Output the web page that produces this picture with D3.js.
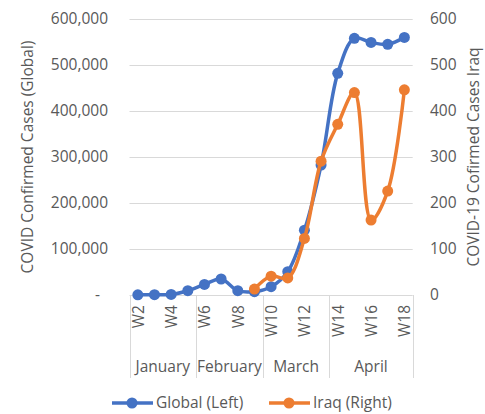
<!DOCTYPE html>
<html>
<head>
<meta charset="utf-8">
<script src="https://cdn.jsdelivr.net/npm/d3@7"></script>
<style>
  body { margin: 0; background: #fff; }
  text { font-family: "Open Sans", sans-serif; fill: #595959; }
</style>
</head>
<body>
<div id="chart"></div>
<script>
// weeks of 2020, one point per week
var weeks = ["W2","W3","W4","W5","W6","W7","W8","W9","W10","W11","W12","W13","W14","W15","W16","W17","W18"];
var months = [
  { name: "January", from: "W2", to: "W5" },
  { name: "February", from: "W6", to: "W9" },
  { name: "March", from: "W10", to: "W13" },
  { name: "April", from: "W14", to: "W18" }
];
var globalCases = [500, 800, 1200, 9300, 23000, 34800, 9300, 7200, 18000, 50700, 141000, 282600, 481800, 558000, 549000, 545000, 560000];
var iraqCases = [null, null, null, null, null, null, null, 13, 41, 37, 123, 291, 371, 440, 163, 226, 446];
var leftTicks = [0, 100000, 200000, 300000, 400000, 500000, 600000];
var rightTicks = [0, 100, 200, 300, 400, 500, 600];

var W = 485, H = 414;
var margin = { top: 19, left: 129.5, right: 72.3, bottom: 119 };

var svg = d3.select("#chart").append("svg")
  .attr("width", W).attr("height", H);

var x = d3.scaleBand().domain(weeks).range([margin.left, W - margin.right]).padding(0);
var yL = d3.scaleLinear().domain([0, 600000]).range([H - margin.bottom, margin.top]);
var yR = d3.scaleLinear().domain([0, 600]).range([H - margin.bottom, margin.top]);
var cx = function (w) { return x(w) + x.bandwidth() / 2; };

// gridlines
svg.append("g").selectAll("line").data(leftTicks).enter().append("line")
  .attr("x1", margin.left).attr("x2", W - margin.right)
  .attr("y1", function (d) { return Math.round(yL(d)) + 0.5; })
  .attr("y2", function (d) { return Math.round(yL(d)) + 0.5; })
  .attr("stroke", "#d9d9d9").attr("stroke-width", 1);

// left ticks
var fmt = d3.format(",");
svg.append("g").selectAll("text").data(leftTicks).enter().append("text")
  .attr("x", function (d) { return d === 0 ? 100 : 108; })
  .attr("y", function (d) { return yL(d); })
  .attr("dy", "0.35em")
  .attr("text-anchor", "end")
  .style("font-size", "15.5px")
  .text(function (d) { return d === 0 ? "-" : fmt(d); });

// right ticks
svg.append("g").selectAll("text").data(rightTicks).enter().append("text")
  .attr("x", 430)
  .attr("y", function (d) { return yR(d); })
  .attr("dy", "0.35em")
  .attr("text-anchor", "start")
  .style("font-size", "15.5px")
  .text(function (d) { return d; });

// axis titles
svg.append("text")
  .attr("transform", "translate(27," + ((margin.top + H - margin.bottom) / 2) + ") rotate(-90)")
  .attr("text-anchor", "middle").attr("dominant-baseline", "central")
  .style("font-size", "15.5px")
  .text("COVID Confirmed Cases (Global)");
svg.append("text")
  .attr("transform", "translate(473," + ((margin.top + H - margin.bottom) / 2) + ") rotate(-90)")
  .attr("text-anchor", "middle").attr("dominant-baseline", "central")
  .style("font-size", "15.5px")
  .text("COVID-19 Cofirmed Cases Iraq");

// category axis: week labels on even weeks, month groups below
var axisY = H - margin.bottom;
svg.append("g").selectAll("text").data(weeks.filter(function (w, i) { return i % 2 === 0; }))
  .enter().append("text")
  .attr("transform", function (w) { return "translate(" + cx(w) + "," + (axisY + 10) + ") rotate(-90)"; })
  .attr("text-anchor", "end").attr("dominant-baseline", "central")
  .style("font-size", "15.5px")
  .text(function (w) { return w; });

var bounds = [margin.left].concat(months.map(function (m) { return x(m.to) + x.bandwidth(); }));
svg.append("g").selectAll("line").data(bounds).enter().append("line")
  .attr("x1", function (d) { return Math.round(d) + 0.5; })
  .attr("x2", function (d) { return Math.round(d) + 0.5; })
  .attr("y1", axisY).attr("y2", 378)
  .attr("stroke", "#d9d9d9");
svg.append("g").selectAll("text").data(months).enter().append("text")
  .attr("x", function (m) { return (x(m.from) + x(m.to) + x.bandwidth()) / 2; })
  .attr("y", 372)
  .attr("text-anchor", "middle")
  .style("font-size", "15.5px")
  .text(function (m) { return m.name; });

// series
function drawSeries(values, scale, color) {
  var pts = weeks.map(function (w, i) { return { w: w, v: values[i] }; })
    .filter(function (d) { return d.v !== null; });
  var line = d3.line()
    .x(function (d) { return cx(d.w); })
    .y(function (d) { return scale(d.v); })
    .curve(d3.curveCatmullRom.alpha(0.5));
  svg.append("path").datum(pts)
    .attr("d", line).attr("fill", "none")
    .attr("stroke", color).attr("stroke-width", 3.5)
    .attr("stroke-linejoin", "round").attr("stroke-linecap", "round");
  svg.append("g").selectAll("circle").data(pts).enter().append("circle")
    .attr("cx", function (d) { return cx(d.w); })
    .attr("cy", function (d) { return scale(d.v); })
    .attr("r", 5.5).attr("fill", color);
}
drawSeries(globalCases, yL, "#4472C4");
drawSeries(iraqCases, yR, "#ED7D31");

// legend
var legend = [
  { label: "Global (Left)", color: "#4472C4", x: 112 },
  { label: "Iraq (Right)", color: "#ED7D31", x: 269 }
];
var lg = svg.append("g").selectAll("g").data(legend).enter().append("g")
  .attr("transform", function (d) { return "translate(" + d.x + ",403)"; });
lg.append("line").attr("x1", 0).attr("x2", 41).attr("y1", 0).attr("y2", 0)
  .attr("stroke", function (d) { return d.color; }).attr("stroke-width", 3.5);
lg.append("circle").attr("cx", 20).attr("cy", 0).attr("r", 5.5)
  .attr("fill", function (d) { return d.color; });
lg.append("text").attr("x", 44).attr("y", 0).attr("dy", "0.35em")
  .style("font-size", "15.5px")
  .text(function (d) { return d.label; });
</script>
</body>
</html>
